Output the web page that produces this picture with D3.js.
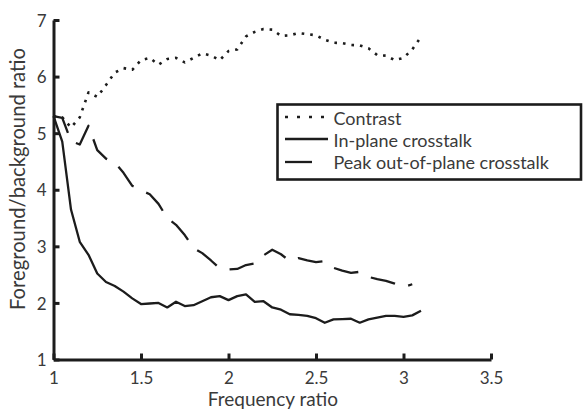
<!DOCTYPE html>
<html>
<head>
<meta charset="utf-8">
<script src="https://cdn.jsdelivr.net/npm/d3@7"></script>
<style>
  body { margin: 0; background: #fff; }
  svg { display: block; }
  text { font-family: Lato, "Open Sans", sans-serif; fill: #3a3a3a; }
</style>
</head>
<body>
<svg id="chart" width="584" height="410"></svg>
<script>
// ---- data ----
const xTicks = [1, 1.5, 2, 2.5, 3, 3.5];
const yTicks = [1, 2, 3, 4, 5, 6, 7];

const contrastX = [1.0,1.05,1.1,1.15,1.2,1.25,1.3,1.35,1.4,1.45,1.5,1.55,1.6,1.65,1.7,1.75,1.8,1.85,1.9,1.95,2.0,2.05,2.1,2.15,2.2,2.25,2.3,2.35,2.4,2.45,2.5,2.55,2.6,2.65,2.7,2.75,2.8,2.85,2.9,2.95,3.0,3.05,3.1];
const contrastY = [5.3,5.28,5.1,5.28,5.72,5.64,5.85,6.07,6.15,6.12,6.29,6.33,6.21,6.31,6.33,6.25,6.33,6.41,6.37,6.29,6.45,6.48,6.71,6.79,6.84,6.83,6.72,6.73,6.77,6.75,6.73,6.65,6.6,6.59,6.56,6.55,6.5,6.38,6.37,6.29,6.33,6.48,6.7];

const inPlaneX = [1.0,1.05,1.1,1.15,1.2,1.25,1.3,1.35,1.4,1.45,1.5,1.55,1.6,1.65,1.7,1.75,1.8,1.85,1.9,1.95,2.0,2.05,2.1,2.15,2.2,2.25,2.3,2.35,2.4,2.45,2.5,2.55,2.6,2.65,2.7,2.75,2.8,2.85,2.9,2.95,3.0,3.05,3.1];
const inPlaneY = [5.3,4.85,3.65,3.08,2.85,2.52,2.37,2.3,2.2,2.08,1.98,1.99,2.0,1.92,2.02,1.945,1.96,2.03,2.1,2.12,2.05,2.12,2.15,2.02,2.03,1.92,1.88,1.8,1.79,1.77,1.73,1.65,1.71,1.715,1.72,1.65,1.71,1.74,1.77,1.77,1.755,1.78,1.86];

const peakX = [1.0,1.05,1.1,1.15,1.2,1.25,1.3,1.35,1.4,1.45,1.5,1.55,1.6,1.65,1.7,1.75,1.8,1.85,1.9,1.95,2.0,2.05,2.1,2.15,2.2,2.25,2.3,2.35,2.4,2.45,2.5,2.55,2.6,2.65,2.7,2.75,2.8,2.85,2.9,2.95,3.0,3.05];
const peakY = [5.3,5.27,4.86,4.8,5.13,4.7,4.55,4.48,4.3,4.07,3.99,3.92,3.75,3.5,3.38,3.2,2.97,2.88,2.75,2.61,2.59,2.6,2.67,2.7,2.84,2.94,2.86,2.74,2.79,2.75,2.72,2.74,2.62,2.57,2.53,2.55,2.46,2.42,2.39,2.34,2.28,2.33];

const seriesNames = ["Contrast", "In-plane crosstalk", "Peak out-of-plane crosstalk"];
const xLabel = "Frequency ratio";
const yLabel = "Foreground/background ratio";

// ---- layout ----
const svg = d3.select("#chart");
const x = d3.scaleLinear().domain([1, 3.5]).range([53.5, 491]);
const y = d3.scaleLinear().domain([1, 7]).range([359.5, 20]);
const ink = "#1c1c1c";
const fmt = d => String(d);

// scale a text's font so that its rendered length matches a target width
function fitText(sel, target, maxSize) {
  const w = sel.node().getComputedTextLength();
  const fs = parseFloat(sel.style("font-size"));
  let nf = w > 0 ? fs * target / w : fs;
  if (maxSize) nf = Math.min(nf, maxSize);
  sel.style("font-size", nf.toFixed(2) + "px");
  return nf;
}

const styles = [
  { dash: "2.6,6", width: 2.6 },
  { dash: null, width: 2.3 },
  { dash: "25,14", width: 2.3 }
];
const data = [
  d3.zip(contrastX, contrastY),
  d3.zip(inPlaneX, inPlaneY),
  d3.zip(peakX, peakY)
];

const line = d3.line().x(d => x(d[0])).y(d => y(d[1]));

data.forEach((pts, i) => {
  svg.append("path")
    .attr("d", line(pts))
    .attr("fill", "none")
    .attr("stroke", ink)
    .attr("stroke-width", styles[i].width)
    .attr("stroke-dasharray", styles[i].dash)
    .attr("stroke-linejoin", "round");
});

// axes
const xAxis = d3.axisBottom(x).tickValues(xTicks).tickFormat(fmt)
  .tickSizeInner(-6).tickSizeOuter(0).tickPadding(12);
const yAxis = d3.axisLeft(y).tickValues(yTicks).tickFormat(fmt)
  .tickSizeInner(-6).tickSizeOuter(0).tickPadding(7);

const gx = svg.append("g").attr("transform", `translate(0,${y(1)})`).call(xAxis);
const gy = svg.append("g").attr("transform", `translate(${x(1)},0)`).call(yAxis);
[gx, gy].forEach(g => {
  g.select(".domain").attr("stroke", ink).attr("stroke-width", 3);
  g.selectAll(".tick line").attr("stroke", ink).attr("stroke-width", 3);
  g.selectAll(".tick text").style("font-size", "17px")
    .style("font-family", 'Lato, "Open Sans", sans-serif').attr("fill", "#3a3a3a");
});
gy.selectAll(".tick text").attr("dy", "0.36em");

// axis labels
const xl = svg.append("text")
  .attr("x", x(2.254)).attr("y", 405.5)
  .attr("text-anchor", "middle")
  .style("font-size", "17px")
  .text(xLabel);
fitText(xl, 142, 19);
const yl = svg.append("text")
  .attr("transform", `translate(25,${y(4.19)}) rotate(-90)`)
  .attr("text-anchor", "middle")
  .style("font-size", "17px")
  .text(yLabel);
fitText(yl, 262);

// legend
const lg = svg.append("g");
lg.append("rect")
  .attr("x", 277.5).attr("y", 104.5).attr("width", 303.5).attr("height", 75)
  .attr("fill", "#fff").attr("stroke", ink).attr("stroke-width", 2.6);
const legendRows = [
  { y: 117, x2: 324, ty: 124.5, dash: "3,9" },
  { y: 139, x2: 328, ty: 146.5, dash: null },
  { y: 162, x2: 312, ty: 168.5, dash: null }
];
const legendTexts = [];
seriesNames.forEach((name, i) => {
  lg.append("line")
    .attr("x1", 285).attr("x2", legendRows[i].x2)
    .attr("y1", legendRows[i].y).attr("y2", legendRows[i].y)
    .attr("stroke", ink).attr("stroke-width", styles[i].width)
    .attr("stroke-dasharray", legendRows[i].dash);
  legendTexts.push(lg.append("text")
    .attr("x", 333.5).attr("y", legendRows[i].ty)
    .style("font-size", "17px")
    .text(name));
});
// size legend font so that the longest entry matches the reference width
const w0 = legendTexts[2].node().getComputedTextLength();
const lfs = Math.min(17 * 230 / w0, 18);
legendTexts.forEach(t => t.style("font-size", lfs.toFixed(2) + "px"));
</script>
</body>
</html>
